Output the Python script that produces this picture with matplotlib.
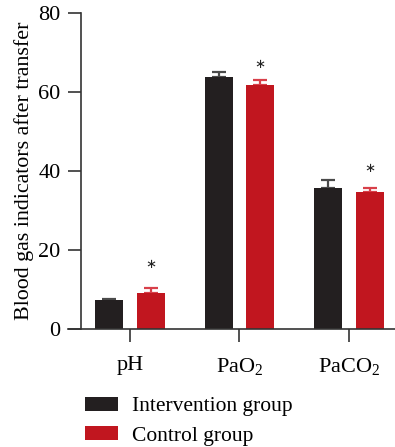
#!/usr/bin/env python3
"""Blood gas indicators after transfer, intervention vs control."""

import matplotlib
matplotlib.use("Agg")
import matplotlib.pyplot as plt
from matplotlib.patches import Patch
import numpy as np

plt.rcParams["font.family"] = ["Liberation Serif", "DejaVu Serif"]
plt.rcParams["mathtext.fontset"] = "custom"
plt.rcParams["mathtext.rm"] = "Liberation Serif"
plt.rcParams["mathtext.default"] = "rm"

categories = ["pH", "PaO$_2$", "PaCO$_2$"]
intervention = [7.3, 63.8, 35.7]
intervention_err = [0.2, 1.3, 2.1]
control = [9.1, 61.8, 34.7]
control_err = [1.3, 1.3, 1.1]
star_y = [16.4, 67.0, 40.7]
yticks = [0, 20, 40, 60, 80]

black = "#231f20"
red = "#c1161f"

fig = plt.figure(figsize=(3.95, 4.47), dpi=100)
ax = fig.add_axes([68 / 395, 118 / 447, 327 / 395, 316 / 447])

x = np.arange(len(categories))
off = 0.19
w = 0.255
ax.bar(x - off, intervention, w, color=black, zorder=2)
ax.bar(x + off, control, w, color=red, zorder=2)
ax.errorbar(x - off, intervention, yerr=[np.zeros(3), intervention_err],
            fmt="none", ecolor="#4a4a4a", elinewidth=1.6, capsize=4.7,
            capthick=1.6, zorder=1)
ax.errorbar(x + off, control, yerr=[np.zeros(3), control_err],
            fmt="none", ecolor="#d8404a", elinewidth=1.6, capsize=4.7,
            capthick=1.6, zorder=1)
for xi, yi in zip(x + off, star_y):
    ax.text(xi, yi, "\u2217", ha="center", va="center", fontsize=9.5,
            family="DejaVu Sans", color="#222222")

left_x = -0.447
ax.set_xlim(left_x - 13 / 109.5, 2.42)
ax.set_ylim(0, 80)
ax.spines["left"].set_position(("data", left_x))
ax.spines["right"].set_visible(False)
ax.spines["top"].set_visible(False)
for s in ("left", "bottom"):
    ax.spines[s].set_linewidth(1.2)
    ax.spines[s].set_color("#333333")

ax.set_xticks(x)
ax.set_xticklabels(categories)
ax.set_yticks(yticks)
ax.tick_params(axis="both", direction="out", length=9.3, width=1.2,
               color="#333333", labelsize=16, pad=5.5)
ax.tick_params(axis="x", pad=10)
ax.set_ylabel("Blood gas indicators after transfer", fontsize=15.8,
              labelpad=3)

handles = [Patch(facecolor=black, label="Intervention group"),
           Patch(facecolor=red, label="Control group")]
fig.legend(handles=handles, loc="upper left",
           bbox_to_anchor=(85 / 395, 1 - 397 / 447),
           frameon=False, fontsize=15.5, handlelength=1.55, handleheight=0.6,
           handletextpad=0.65, labelspacing=0.45, borderpad=0,
           borderaxespad=0)

fig.savefig("out.png", dpi=100)
